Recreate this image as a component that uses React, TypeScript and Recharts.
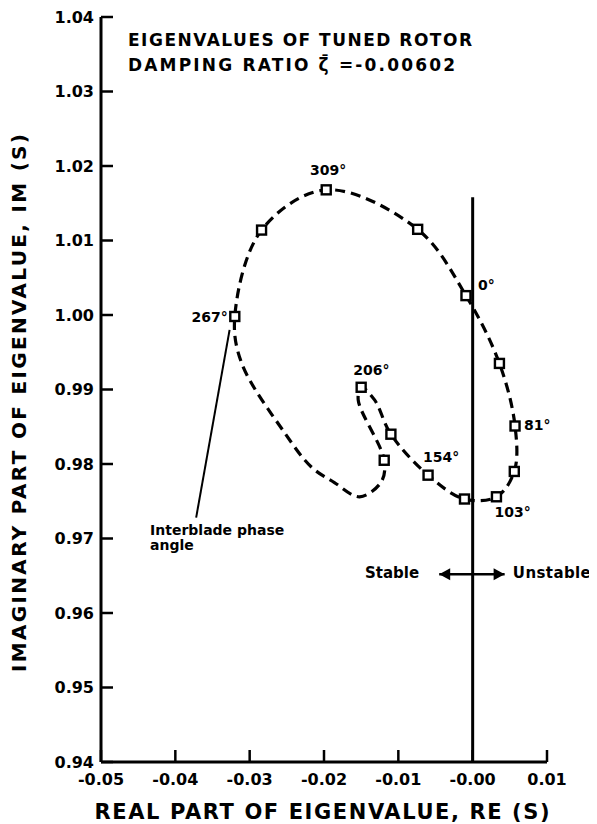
import React from 'react';
import {
  ComposedChart,
  XAxis,
  YAxis,
  Line,
  Scatter,
  ReferenceLine,
  ReferenceDot,
  Customized,
} from 'recharts';

const FONT = '"DejaVu Sans", "Liberation Sans", sans-serif';

// ---------- axes ----------
const xTicks = [-0.05, -0.04, -0.03, -0.02, -0.01, 0, 0.01];
const xTickLabels = ['-0.05', '-0.04', '-0.03', '-0.02', '-0.01', '-0.00', '0.01'];
const yTicks = [0.94, 0.95, 0.96, 0.97, 0.98, 0.99, 1.0, 1.01, 1.02, 1.03, 1.04];
const yTickLabels = ['0.94', '0.95', '0.96', '0.97', '0.98', '0.99', '1.00', '1.01', '1.02', '1.03', '1.04'];

// ---------- eigenvalues (squares), ordered by interblade phase angle ----------
const eigenRe = [-0.0009, 0.0036, 0.0057, 0.0056, 0.0032, -0.0011, -0.006, -0.011, -0.015, -0.0119, -0.032, -0.0284, -0.0197, -0.0074];
const eigenIm = [1.0026, 0.9935, 0.9851, 0.979, 0.9756, 0.9753, 0.9785, 0.984, 0.9903, 0.9805, 0.9998, 1.0114, 1.0168, 1.0115];
const eigenLabels = ['0°', '', '81°', '', '103°', '', '154°', '', '206°', '', '267°', '', '309°', ''];

// ---------- dashed locus traced through the eigenvalues (closed loop) ----------
const locusRe = [-0.0009, 0.0036, 0.0057, 0.0056, 0.0032, -0.0011, -0.006, -0.011, -0.0132, -0.015, -0.0154, -0.0119, -0.0123, -0.0152, -0.0186, -0.0217, -0.0253, -0.0311, -0.032, -0.0284, -0.0197, -0.0074];
const locusIm = [1.0026, 0.9935, 0.9851, 0.979, 0.9756, 0.9753, 0.9785, 0.984, 0.9886, 0.9903, 0.9886, 0.9805, 0.9776, 0.9756, 0.9775, 0.9796, 0.9842, 0.9936, 0.9998, 1.0114, 1.0168, 1.0115];

// ---------- reference line / annotations ----------
const neutralLineTop = 1.0158;
const leaderFrom = { x: -0.0372, y: 0.9728 };
const leaderTo = { x: -0.0327, y: 0.998 };
const arrowLeft = { x: -0.0045, y: 0.9652 };
const arrowRight = { x: 0.0043, y: 0.9652 };
const annotationLines = ['Interblade phase', 'angle'];
const annotationRe = -0.0434;
const annotationIm = [0.9705, 0.9684];

const eigenData = eigenRe.map((x, i) => ({ x, y: eigenIm[i], label: eigenLabels[i] }));
const locusData = locusRe.map((x, i) => ({ x, y: locusIm[i] }));

// label placement relative to the square (styling, not data)
const labelPlacement: Record<string, { dx: number; dy: number; anchor: string }> = {
  '0°': { dx: 12, dy: -6, anchor: 'start' },
  '81°': { dx: 9, dy: 4, anchor: 'start' },
  '103°': { dx: -2, dy: 20, anchor: 'start' },
  '154°': { dx: -5, dy: -13, anchor: 'start' },
  '206°': { dx: -8, dy: -12, anchor: 'start' },
  '267°': { dx: -7, dy: 6, anchor: 'end' },
  '309°': { dx: 2, dy: -15, anchor: 'middle' },
};

// closed centripetal Catmull-Rom curve factory
const closedCatmullRom = (context: any) => {
  let pts: number[][] = [];
  const alpha = 0.5;
  return {
    areaStart() {},
    areaEnd() {},
    lineStart() {
      pts = [];
    },
    point(x: number, y: number) {
      pts.push([+x, +y]);
    },
    lineEnd() {
      const n = pts.length;
      if (!n) return;
      context.moveTo(pts[0][0], pts[0][1]);
      const d = (a: number[], b: number[]) => Math.hypot(b[0] - a[0], b[1] - a[1]);
      for (let i = 0; i < n; i++) {
        const p0 = pts[(i - 1 + n) % n];
        const p1 = pts[i];
        const p2 = pts[(i + 1) % n];
        const p3 = pts[(i + 2) % n];
        const l01a = Math.pow(d(p0, p1), alpha), l01_2a = l01a * l01a;
        const l12a = Math.pow(d(p1, p2), alpha), l12_2a = l12a * l12a;
        const l23a = Math.pow(d(p2, p3), alpha), l23_2a = l23a * l23a;
        let c1x = p1[0], c1y = p1[1], c2x = p2[0], c2y = p2[1];
        if (l01a > 1e-9) {
          const a = 2 * l01_2a + 3 * l01a * l12a + l12_2a;
          const nn = 3 * l01a * (l01a + l12a);
          c1x = (p1[0] * a - p0[0] * l12_2a + p2[0] * l01_2a) / nn;
          c1y = (p1[1] * a - p0[1] * l12_2a + p2[1] * l01_2a) / nn;
        }
        if (l23a > 1e-9) {
          const b = 2 * l23_2a + 3 * l23a * l12a + l12_2a;
          const m = 3 * l23a * (l23a + l12a);
          c2x = (p2[0] * b + p1[0] * l23_2a - p3[0] * l12_2a) / m;
          c2y = (p2[1] * b + p1[1] * l23_2a - p3[1] * l12_2a) / m;
        }
        context.bezierCurveTo(c1x, c1y, c2x, c2y, p2[0], p2[1]);
      }
      context.closePath();
    },
  };
};

const Y_TICK_MARGIN = 7;
const X_TICK_MARGIN = 10;

const YTick = (props: any) => {
  const { x, y, payload } = props;
  const i = yTicks.indexOf(payload.value);
  const ax = x + Y_TICK_MARGIN;
  return (
    <g>
      <line x1={ax} y1={y} x2={ax + 12} y2={y} stroke="#000" strokeWidth={2.5} />
      <text x={x} y={y} dy="0.36em" textAnchor="end" fontFamily={FONT} fontWeight="bold" fontSize={16} fill="#000">
        {yTickLabels[i]}
      </text>
    </g>
  );
};

const XTick = (props: any) => {
  const { x, y, payload } = props;
  const i = xTicks.indexOf(payload.value);
  const ay = y - X_TICK_MARGIN;
  return (
    <g>
      <line x1={x} y1={ay} x2={x} y2={ay - 12} stroke="#000" strokeWidth={2.5} />
      <text x={x} y={y + 13} textAnchor="middle" fontFamily={FONT} fontWeight="bold" fontSize={16} fill="#000">
        {xTickLabels[i]}
      </text>
    </g>
  );
};

const SquareMark = (props: any) => {
  const { cx, cy, payload } = props;
  const s = 9;
  const lab = payload && payload.label;
  const pl = lab ? labelPlacement[lab] : null;
  return (
    <g>
      <rect x={cx - s / 2} y={cy - s / 2} width={s} height={s} fill="#fff" stroke="#000" strokeWidth={2.4} />
      {pl && (
        <text x={cx + pl.dx} y={cy + pl.dy} textAnchor={pl.anchor} fontFamily={FONT} fontWeight="bold" fontSize={14} fill="#000">
          {lab}
        </text>
      )}
    </g>
  );
};

const textShape = (content: React.ReactNode, anchor: string, size: number, extra: any = {}) => (p: any) => (
  <text x={p.cx} y={p.cy} textAnchor={anchor} fontFamily={FONT} fontWeight="bold" fontSize={size} fill="#000" {...extra}>
    {content}
  </text>
);

const arrowHead = (dir: number) => (p: any) => (
  <path
    d={`M${p.cx},${p.cy} L${p.cx - dir * 11},${p.cy - 6} L${p.cx - dir * 11},${p.cy + 6} Z`}
    fill="#000"
  />
);

const Titles = () => (
  <g fontFamily={FONT} fontWeight="bold" fill="#000">
    <text x={120} y={38} fontSize={17} textLength={344} lengthAdjust="spacing">
      EIGENVALUES OF TUNED ROTOR
    </text>
    <text x={120} y={63} fontSize={17} textLength={327} lengthAdjust="spacing">
      DAMPING RATIO ζ̄ =-0.00602
    </text>
    <text x={314} y={811} fontSize={21} textAnchor="middle" textLength={455} lengthAdjust="spacing">
      REAL PART OF EIGENVALUE, RE (S)
    </text>
    <text
      transform="translate(11,395) rotate(-90)"
      fontSize={20}
      textAnchor="middle"
      dy="0.36em"
      textLength={538}
      lengthAdjust="spacing"
    >
      IMAGINARY PART OF EIGENVALUE, IM (S)
    </text>
  </g>
);

export default function App() {
  return (
    <div style={{ width: 589, height: 816 }}>
      <ComposedChart width={589} height={816} margin={{ top: 9, right: 50, left: 13, bottom: 22 }}>
        <XAxis
          type="number"
          dataKey="x"
          domain={[-0.05, 0.01]}
          ticks={xTicks}
          interval={0}
          height={40}
          tickSize={0}
          tickMargin={X_TICK_MARGIN}
          tickLine={false}
          axisLine={{ stroke: '#000', strokeWidth: 3 }}
          tick={<XTick />}
        />
        <YAxis
          type="number"
          dataKey="y"
          domain={[0.94, 1.04]}
          ticks={yTicks}
          interval={0}
          width={80}
          tickSize={0}
          tickMargin={Y_TICK_MARGIN}
          tickLine={false}
          axisLine={{ stroke: '#000', strokeWidth: 3 }}
          tick={<YTick />}
        />
        <ReferenceLine
          segment={[{ x: 0, y: 0.94 }, { x: 0, y: neutralLineTop }]}
          stroke="#000"
          strokeWidth={3}
        />
        <ReferenceLine segment={[leaderFrom, leaderTo]} stroke="#000" strokeWidth={2} />
        <ReferenceLine segment={[arrowLeft, arrowRight]} stroke="#000" strokeWidth={2.5} />
        <ReferenceDot x={arrowLeft.x} y={arrowLeft.y} r={0} shape={arrowHead(-1)} />
        <ReferenceDot x={arrowRight.x} y={arrowRight.y} r={0} shape={arrowHead(1)} />
        <ReferenceDot x={-0.0072} y={0.9647} r={0} shape={textShape('Stable', 'end', 15)} />
        <ReferenceDot x={0.0054} y={0.9647} r={0} shape={textShape('Unstable', 'start', 15, { textLength: 78 })} />
        {annotationLines.map((t, i) => (
          <ReferenceDot key={t} x={annotationRe} y={annotationIm[i]} r={0} shape={textShape(t, 'start', 14)} />
        ))}
        <Line
          data={locusData}
          dataKey="y"
          type={closedCatmullRom as any}
          stroke="#000"
          strokeWidth={3.2}
          strokeDasharray="10 6"
          dot={false}
          activeDot={false}
          isAnimationActive={false}
        />
        <Scatter data={eigenData} dataKey="y" shape={<SquareMark />} isAnimationActive={false} />
        <Customized component={Titles} />
      </ComposedChart>
    </div>
  );
}
